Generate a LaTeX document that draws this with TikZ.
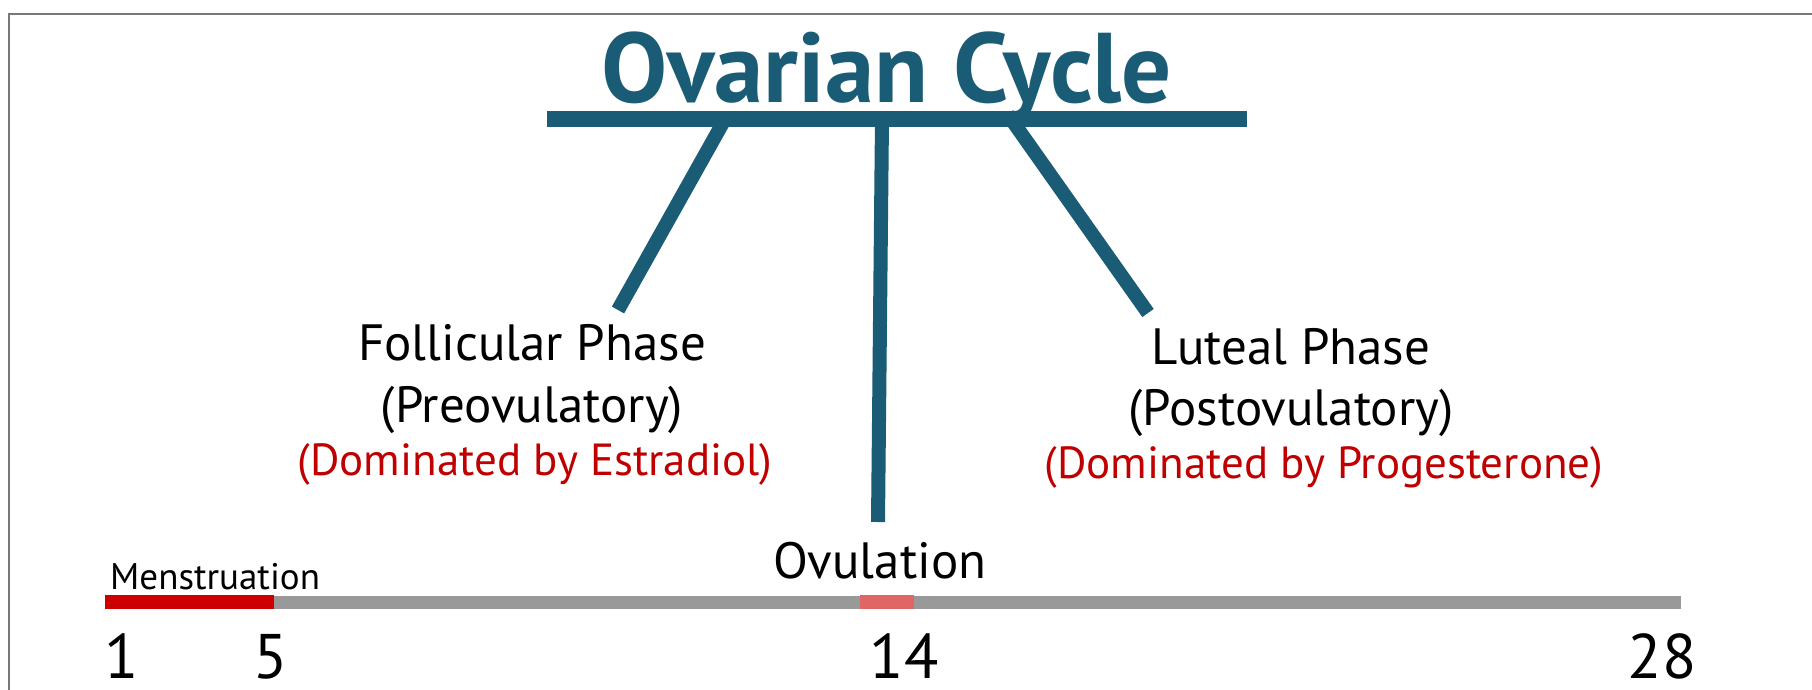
\documentclass[tikz,border=0pt]{standalone}
\usepackage{fontspec}
\setmainfont{PT Sans}
\definecolor{teal}{HTML}{1A5C75}
\definecolor{darkred}{HTML}{C00000}
\definecolor{menred}{HTML}{CC0000}
\definecolor{ovpink}{HTML}{E06666}
\definecolor{bargray}{HTML}{999999}
\definecolor{framegray}{HTML}{777777}
\tikzset{
  branch/.style={draw=teal, line width=14pt},
  phasetext/.style={anchor=base, inner sep=0pt, font=\fontsize{51}{54}\selectfont},
  hormtext/.style={anchor=base, inner sep=0pt, text=darkred, font=\fontsize{45}{48}\selectfont},
  numtext/.style={anchor=base, inner sep=0pt, font=\fontsize{63}{60}\selectfont},
}
\begin{document}
\begin{tikzpicture}[x=1pt,y=-1pt]
\clip (0,0) rectangle (1812,690);
\useasboundingbox (0,0) rectangle (1812,690);
\fill[white] (0,0) rectangle (1812,690);
\draw[framegray, line width=2pt] (9,14) rectangle (1850,720);

% title
\node[anchor=base, inner sep=0pt, text=teal, font=\fontsize{99}{100}\selectfont\bfseries] (title) at (887,103) {Ovarian Cycle};
\coordinate (barL) at (547,119);
\coordinate (barR) at (1247,119);
\draw[teal, line width=16pt] (barL) -- (barR);

% branches
\coordinate (b1) at (725,119);
\coordinate (b2) at (882,119);
\coordinate (b3) at (1011,119);
\coordinate (e1) at (618,310);
\coordinate (e2) at (878,522);
\coordinate (e3) at (1148,313);
\draw[branch] (b1) -- (e1);
\draw[branch] (b2) -- (e2);
\draw[branch] (b3) -- (e3);

% phase texts
\node[phasetext] (fol1) at (532,360) {Follicular Phase};
\node[phasetext] (fol2) at (532,422) {(Preovulatory)};
\node[hormtext] (fol3) at (535,475) {(Dominated by Estradiol)};
\node[phasetext] (lut1) at (1291,364) {Luteal Phase};
\node[phasetext] (lut2) at (1291,425) {(Postovulatory)};
\node[hormtext] (lut3) at (1324,478) {(Dominated by Progesterone)};
\node[phasetext] (ovu) at (880,578) {Ovulation};
\node[anchor=base west, inner sep=0pt, font=\fontsize{37}{38}\selectfont] (men) at (110,589) {Menstruation};

% timeline bar
\fill[bargray] (248,596) rectangle (1681,609);
\fill[menred] (105,595) rectangle (274,609);
\fill[ovpink] (860,595) rectangle (914,609);

% day numbers
\node[numtext] (d1) at (122,678) {1};
\node[numtext] (d5) at (271,678) {5};
\node[numtext] (d14) at (904,678) {14};
\node[numtext] (d28) at (1662,678) {28};
\end{tikzpicture}
\end{document}
